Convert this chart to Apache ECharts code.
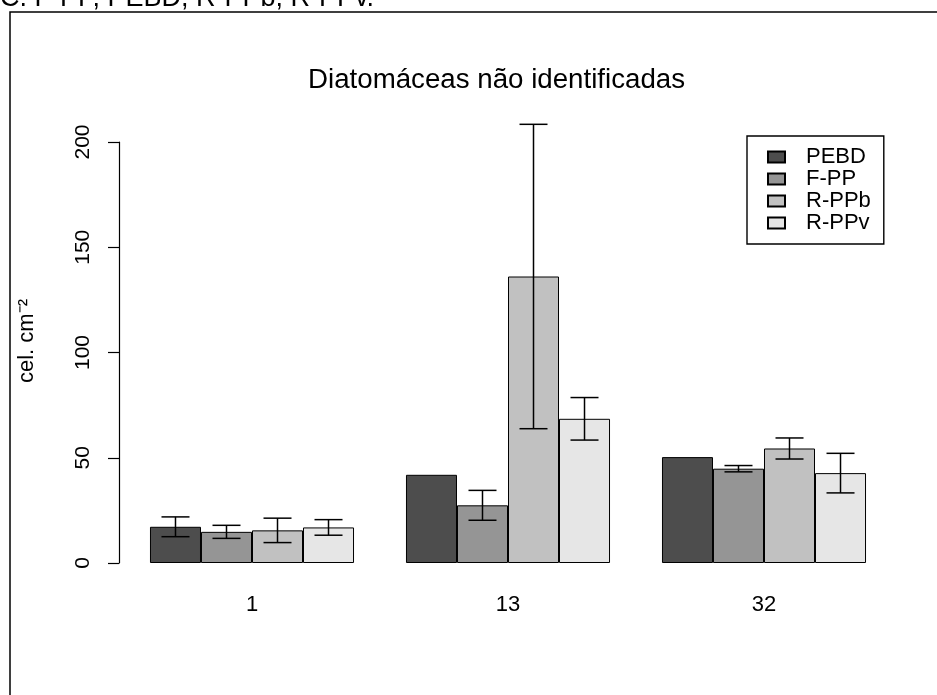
<!DOCTYPE html>
<html>
<head>
<meta charset="utf-8">
<script src="https://cdn.jsdelivr.net/npm/echarts@6/dist/echarts.min.js"></script>
<style>
  html, body { margin: 0; padding: 0; background: #fff; }
  #chart { width: 937px; height: 695px; }
</style>
</head>
<body>
<div id="chart"></div>
<script>
// Sampling days
const categories = ['1', '13', '32'];
const seriesNames = ['PEBD', 'F-PP', 'R-PPb', 'R-PPv'];

// Mean density (cel. cm-2) per treatment
const pebd = [17.2, 41.9, 50.3];
const fpp = [14.8, 27.4, 44.8];
const rppb = [15.5, 136.1, 54.4];
const rppv = [16.9, 68.5, 42.7];

// Standard error per treatment (null = no bar)
const pebdErr = [4.7, null, null];
const fppErr = [3.1, 7.1, 1.5];
const rppbErr = [5.8, 72.3, 5.0];
const rppvErr = [3.7, 10.1, 9.4];

// Y axis ticks
const yTicks = [0, 50, 100, 150, 200];

const means = [pebd, fpp, rppb, rppv];
const errs = [pebdErr, fppErr, rppbErr, rppvErr];
const fills = ['#4D4D4D', '#959595', '#C1C1C1', '#E6E6E6'];
const FONT = "'Liberation Sans', Arial, sans-serif";
const GAP = 0.203;

// Flatten error data: [categoryIndex, low, high, seriesIndex]
const errData = [];
errs.forEach((arr, s) => {
  arr.forEach((e, c) => {
    if (e != null) errData.push([c, means[s][c] - e, means[s][c] + e, s]);
  });
});

const chart = echarts.init(document.getElementById('chart'), null, { renderer: 'canvas' });

const barSeries = seriesNames.map((name, i) => ({
  name: name,
  type: 'bar',
  data: means[i],
  barGap: '0%',
  barCategoryGap: (GAP * 100) + '%',
  itemStyle: { color: fills[i], borderColor: '#000', borderWidth: 1 },
  emphasis: { disabled: true },
  z: 2
}));

const errorSeries = {
  type: 'custom',
  data: errData,
  z: 5,
  silent: true,
  renderItem: function (params, api) {
    const c = api.value(0);
    const lo = api.value(1);
    const hi = api.value(2);
    const s = api.value(3);
    const band = api.size([1, 0])[0];
    const bw = band * (1 - GAP) / 4;
    const center = api.coord([c, 0])[0];
    const x = center + (s - 1.5) * bw;
    const yLo = api.coord([c, lo])[1];
    const yHi = api.coord([c, hi])[1];
    const cap = 14;
    const st = { stroke: '#000', lineWidth: 1.5 };
    return {
      type: 'group',
      children: [
        { type: 'line', shape: { x1: x, y1: yLo, x2: x, y2: yHi }, style: st },
        { type: 'line', shape: { x1: x - cap, y1: yHi, x2: x + cap, y2: yHi }, style: st },
        { type: 'line', shape: { x1: x - cap, y1: yLo, x2: x + cap, y2: yLo }, style: st }
      ]
    };
  }
};

chart.setOption({
  animation: false,
  backgroundColor: '#fff',
  title: {
    text: 'Diatomáceas não identificadas',
    left: 308,
    top: 66,
    padding: 0,
    textStyle: { fontFamily: FONT, fontSize: 27.7, fontWeight: 'normal', color: '#000' }
  },
  legend: {
    data: seriesNames,
    orient: 'vertical',
    left: 747,
    top: 136,
    padding: [10, 13, 10, 20],
    itemGap: 0,
    itemWidth: 17,
    itemHeight: 11,
    icon: 'rect',
    borderColor: '#000',
    borderWidth: 1.4,
    selectedMode: false,
    textStyle: { fontFamily: FONT, fontSize: 22, lineHeight: 22, color: '#000', padding: [0, 0, 0, 16] }
  },
  grid: { left: 124, right: 45, top: 142, bottom: 132, containLabel: false },
  xAxis: {
    type: 'category',
    data: categories,
    axisLine: { show: false },
    axisTick: { show: false },
    axisLabel: { fontFamily: FONT, fontSize: 22, color: '#000', margin: 31 },
    splitLine: { show: false }
  },
  yAxis: {
    type: 'value',
    min: yTicks[0],
    max: yTicks[yTicks.length - 1],
    interval: 50,
    offset: 5,
    axisLine: { show: true, lineStyle: { color: '#000', width: 1.2 } },
    axisTick: { show: true, length: 11, lineStyle: { color: '#000', width: 1.2 } },
    axisLabel: { fontFamily: FONT, fontSize: 21, color: '#000', rotate: 90, margin: 25 },
    splitLine: { show: false }
  },
  graphic: [
    {
      type: 'rect',
      shape: { x: 10, y: 12, width: 960, height: 720 },
      style: { fill: 'none', stroke: '#000', lineWidth: 1.5 },
      silent: true,
      z: 0
    },
    {
      type: 'text',
      x: 0,
      y: -1,
      style: {
        text: 'C. F-PP, PEBD, R-PPb, R-PPv.',
        fontFamily: FONT,
        fontSize: 27,
        fill: '#000',
        textAlign: 'left',
        textVerticalAlign: 'middle'
      },
      silent: true
    },
    {
      type: 'text',
      x: 27,
      y: 341,
      rotation: Math.PI / 2,
      style: {
        text: 'cel. cm⁻²',
        fontFamily: FONT,
        fontSize: 22,
        fill: '#000',
        textAlign: 'center',
        textVerticalAlign: 'middle'
      },
      silent: true
    }
  ],
  series: barSeries.concat([errorSeries])
});
</script>
</body>
</html>
